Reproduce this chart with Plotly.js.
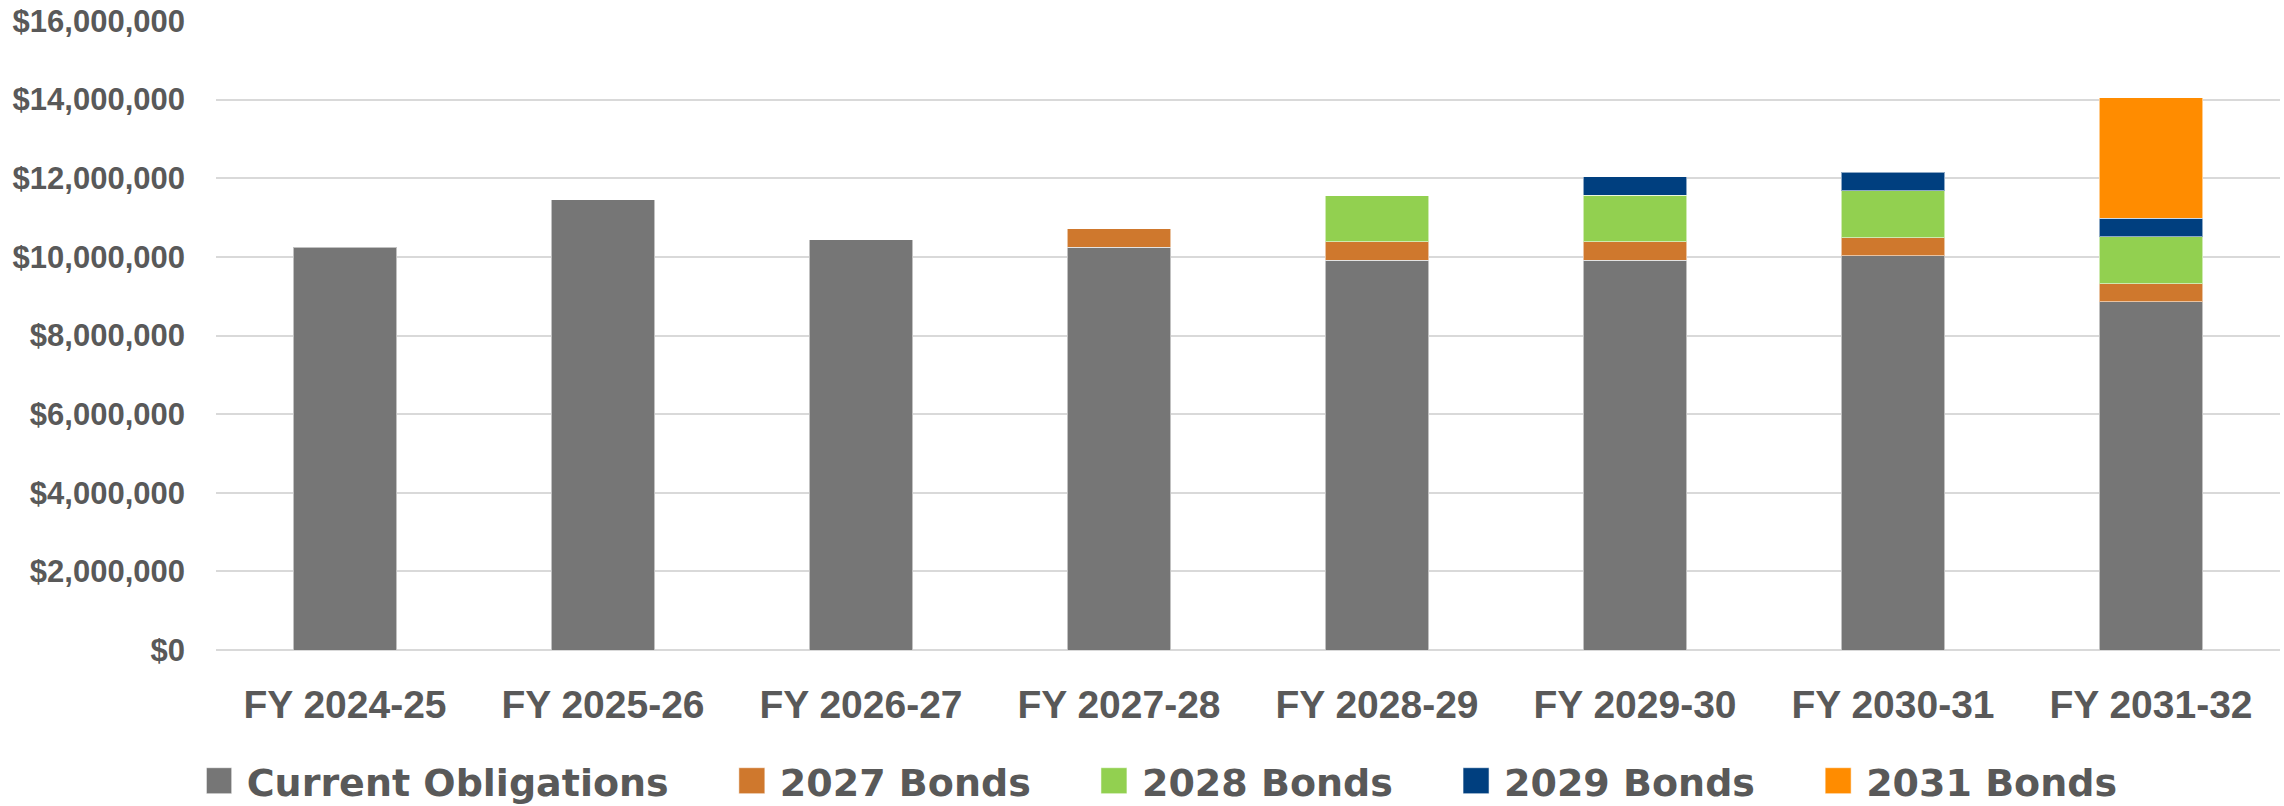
<!DOCTYPE html>
<html>
<head>
<meta charset="utf-8">
<script src="https://cdn.plot.ly/plotly-3.0.1.min.js"></script>
<style>
html,body{margin:0;padding:0;background:#fff;}
#chart{width:2284px;height:806px;}
</style>
</head>
<body>
<div id="chart"></div>
<script>
const categories = ["FY 2024-25","FY 2025-26","FY 2026-27","FY 2027-28","FY 2028-29","FY 2029-30","FY 2030-31","FY 2031-32"];
const seriesNames = ["Current Obligations","2027 Bonds","2028 Bonds","2029 Bonds","2031 Bonds"];
const currentObligations = [10250000, 11450000, 10430000, 10250000, 9920000, 9920000, 10030000, 8860000];
const bonds2027 = [null, null, null, 460000, 460000, 460000, 460000, 460000];
const bonds2028 = [null, null, null, null, 1180000, 1190000, 1190000, 1190000];
const bonds2029 = [null, null, null, null, null, 470000, 470000, 470000];
const bonds2031 = [null, null, null, null, null, null, null, 3070000];
const seriesColors = ["#767676","#CF782D","#92D050","#003F7F","#FF8C00"];
const yTickVals = [0,2000000,4000000,6000000,8000000,10000000,12000000,14000000,16000000];
const yTickText = ["$0","$2,000,000","$4,000,000","$6,000,000","$8,000,000","$10,000,000","$12,000,000","$14,000,000","$16,000,000"];

const seriesValues = [currentObligations, bonds2027, bonds2028, bonds2029, bonds2031];
const pad = "&nbsp;&nbsp;&nbsp;&nbsp;&nbsp;";
const traces = seriesValues.map((vals, i) => ({
  type: "bar",
  x: categories,
  y: vals,
  name: seriesNames[i] + (i < seriesNames.length - 1 ? pad : ""),
  marker: {color: seriesColors[i], line: {color: "rgba(255,255,255,0.55)", width: 1}},
  hoverinfo: "x+y+name"
}));

const textColor = "#595959";
const layout = {
  width: 2284,
  height: 806,
  barmode: "stack",
  bargap: 0.6,
  paper_bgcolor: "#fff",
  plot_bgcolor: "#fff",
  margin: {l: 216, r: 4, t: 21, b: 156, pad: 0},
  font: {family: "Liberation Sans, Arial, sans-serif", color: textColor},
  xaxis: {
    type: "category",
    tickfont: {family: "Liberation Sans, Arial, sans-serif", size: 39, color: textColor, weight: "bold"},
    ticks: "",
    ticklabelstandoff: 28,
    showgrid: false,
    showline: false,
    zeroline: false
  },
  yaxis: {
    range: [0, 16000000],
    tickvals: yTickVals,
    ticktext: yTickText,
    tickfont: {family: "Liberation Sans, Arial, sans-serif", size: 31, color: textColor, weight: "bold"},
    ticks: "",
    ticklabelstandoff: 30,
    showgrid: true,
    gridcolor: "#d9d9d9",
    gridwidth: 2,
    zeroline: true,
    zerolinecolor: "#d9d9d9",
    zerolinewidth: 2,
    showline: false,
    fixedrange: true
  },
  showlegend: true,
  legend: {
    orientation: "h",
    xref: "container",
    yref: "container",
    x: 0.0905,
    xanchor: "left",
    y: 0.031,
    yanchor: "middle",
    font: {family: "DejaVu Sans, sans-serif", size: 38, color: textColor, weight: "bold"},
    traceorder: "normal",
    bgcolor: "rgba(0,0,0,0)"
  }
};

Plotly.newPlot("chart", traces, layout, {displayModeBar: false, staticPlot: true}).then(gd => {
  gd.querySelectorAll(".legend .legendpoints path").forEach(p => {
    p.setAttribute("d", "M5,13H-21V-13H5Z");
  });
});
</script>
</body>
</html>
